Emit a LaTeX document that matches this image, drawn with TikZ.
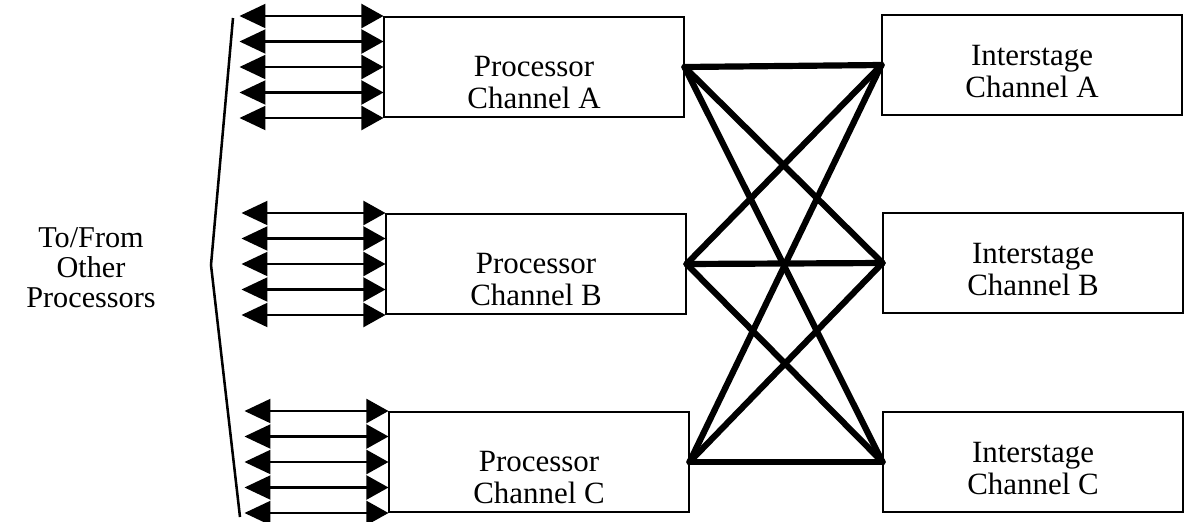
\documentclass[tikz,border=0pt]{standalone}
\usepackage{fontspec}
\setmainfont{Liberation Serif}
\usetikzlibrary{arrows.meta,calc}

\tikzset{
  chan/.style={draw, line width=1.4pt, minimum width=7.475cm, minimum height=2.5cm, inner sep=0pt},
  chantext/.style={align=center, inner sep=0pt, font=\fontsize{22}{22.8}\selectfont},
  sidetext/.style={align=center, inner sep=0pt, font=\fontsize{21.5}{21.3}\selectfont},
  link/.style={line width=4.4pt, line cap=round},
  io/.style={{Triangle[length=0.65cm,width=0.6cm]}-{Triangle[length=0.55cm,width=0.6cm]}, line width=1.5pt},
}

\begin{document}
\begin{tikzpicture}[x=0.025cm, y=-0.025cm]
  \useasboundingbox (0,0) rectangle (1184,521);

  % processor channels
  \node[chan] (pA) at (534,67) {};
  \node[chan] (pB) at (536,264) {};
  \node[chan] (pC) at (539,462) {};
  \node[chantext] (pA-t) at ([yshift=-0.38cm]pA.center) {Processor\\Channel A};
  \node[chantext] (pB-t) at ([yshift=-0.38cm]pB.center) {Processor\\Channel B};
  \node[chantext] (pC-t) at ([yshift=-0.38cm]pC.center) {Processor\\Channel C};

  % interstage channels
  \node[chan] (iA) at (1032,65) {};
  \node[chan] (iB) at (1033,263) {};
  \node[chan] (iC) at (1033,462) {};
  \node[chantext] (iA-t) at ([yshift=-0.17cm]iA.center) {Interstage\\Channel A};
  \node[chantext] (iB-t) at ([yshift=-0.17cm]iB.center) {Interstage\\Channel B};
  \node[chantext] (iC-t) at ([yshift=-0.17cm]iC.center) {Interstage\\Channel C};

  % full crossbar
  \foreach \a in {A,B,C}{
    \foreach \b in {A,B,C}{
      \draw[link] (p\a.east) -- (i\b.west);
    }
  }

  % lines to the other processors
  \foreach \p in {pA,pB,pC}{
    \foreach \k in {0,...,4}{
      \coordinate (\p\k) at ($(\p.north west)!\k/4!(\p.south west)+(-144,0)$);
      \draw[io] (\p\k) -- (\p\k -| \p.west);
    }
  }

  \draw[line width=1.8pt] (233,18) -- (211,265) -- (240,517);
  \node[sidetext] (other) at (91,268) {To/From\\Other\\Processors};
\end{tikzpicture}
\end{document}
